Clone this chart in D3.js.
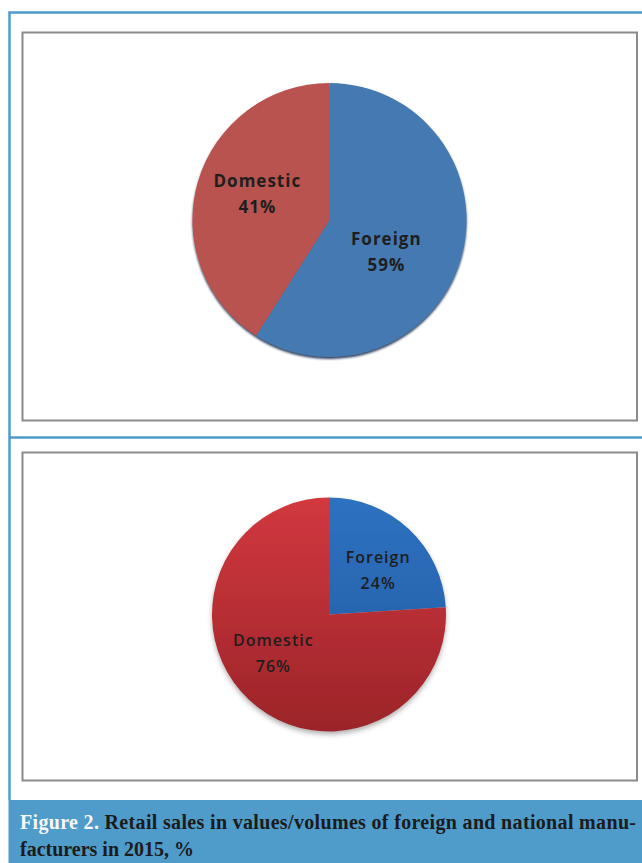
<!DOCTYPE html>
<html>
<head>
<meta charset="utf-8">
<script src="https://cdn.jsdelivr.net/npm/d3@7"></script>
<style>
  html, body { margin: 0; padding: 0; background: #fff; }
  svg { display: block; }
</style>
</head>
<body>
<script>
// Chart data
const categories = ["Foreign", "Domestic"];
const valuesTop = [59, 41];      // retail sales in values
const valuesBottom = [24, 76];   // retail sales in volumes
const captionLead = "Figure 2.";
const captionLine1 = " Retail sales in values/volumes of foreign and national manu-";
const captionLine2 = "facturers in 2015, %";

// Create SVG
const width = 642, height = 863;
const svg = d3.select("body")
    .append("svg")
    .attr("width", width)
    .attr("height", height);

const defs = svg.append("defs");

// Dark rim under the top pie
const rim = defs.append("filter").attr("id", "rim")
    .attr("x", "-10%").attr("y", "-10%").attr("width", "120%").attr("height", "125%");
rim.append("feDropShadow")
    .attr("dx", 0).attr("dy", 2).attr("stdDeviation", 1)
    .attr("flood-color", "#1b3350").attr("flood-opacity", 0.9);

// Soft shadow under the bottom pie
const soft = defs.append("filter").attr("id", "soft")
    .attr("x", "-10%").attr("y", "-10%").attr("width", "120%").attr("height", "125%");
soft.append("feDropShadow")
    .attr("dx", 0).attr("dy", 3).attr("stdDeviation", 2.5)
    .attr("flood-color", "#555").attr("flood-opacity", 0.45);

// Frame: outer blue border, separator, caption bar
const blue = "#4e9bcb";
svg.append("path")
    .attr("d", `M${width + 5},12.5 H9.5 V800`)
    .attr("fill", "none").attr("stroke", blue).attr("stroke-width", 2.5);
svg.append("line")
    .attr("x1", 9).attr("x2", width).attr("y1", 437.5).attr("y2", 437.5)
    .attr("stroke", blue).attr("stroke-width", 2.5);
svg.append("rect")
    .attr("x", 8.5).attr("y", 800).attr("width", width).attr("height", height - 800)
    .attr("fill", "#4f9bca");

// Gray chart boxes
[[32, 420], [452, 780]].forEach(([y0, y1]) => {
    svg.append("rect")
        .attr("x", 22.5).attr("y", y0 + 0.5)
        .attr("width", 637 - 22.5).attr("height", y1 - y0)
        .attr("fill", "#fff")
        .attr("stroke", "#8a8a8a").attr("stroke-width", 2);
});

// Gradients for the bottom pie
function vGrad(id, y0, y1, c0, c1) {
    const g = defs.append("linearGradient").attr("id", id)
        .attr("gradientUnits", "userSpaceOnUse")
        .attr("x1", 0).attr("x2", 0).attr("y1", y0).attr("y2", y1);
    g.append("stop").attr("offset", "0%").attr("stop-color", c0);
    g.append("stop").attr("offset", "100%").attr("stop-color", c1);
}
vGrad("gForeign", -117, 117, "#2d72c0", "#2259a0");
vGrad("gDomestic", -117, 117, "#d2383f", "#9b2429");

const pie = d3.pie().sort(null).value(d => d.value);

function drawPie(opts) {
    const data = categories.map((c, i) => ({ name: c, value: opts.values[i] }));
    const g = svg.append("g").attr("transform", `translate(${opts.cx},${opts.cy})`);
    const arc = d3.arc().innerRadius(0).outerRadius(opts.r);

    g.append("g").attr("filter", opts.filter)
        .selectAll("path")
        .data(pie(data))
        .join("path")
        .attr("d", arc)
        .attr("fill", (d, i) => opts.colors[i]);

    const lbl = g.append("g")
        .attr("font-family", "'Open Sans', sans-serif")
        .attr("font-weight", opts.weight)
        .attr("font-size", opts.fontSize)
        .attr("letter-spacing", 1)
        .attr("fill", "#1e1e1e")
        .attr("text-anchor", "middle");

    pie(data).forEach((d, i) => {
        const k = opts.labelK[i] * opts.r;
        const [x, y] = d3.arc().innerRadius(k).outerRadius(k).centroid(d);
        const px = x + opts.nudge[i][0], py = y + opts.nudge[i][1];
        const t = lbl.append("text").attr("dominant-baseline", "central");
        t.append("tspan").attr("x", px).attr("y", py - 13).text(d.data.name);
        t.append("tspan").attr("x", px).attr("y", py + 13).text(d3.format(".0f")(d.data.value) + "%");
    });
}

drawPie({
    values: valuesTop, cx: 329.5, cy: 220, r: 137,
    colors: ["#4579b2", "#b9524f"], filter: "url(#rim)",
    labelK: [0.47, 0.56], nudge: [[-5, 13], [1.5, -5.5]],
    fontSize: 17, weight: 700
});

drawPie({
    values: valuesBottom, cx: 329, cy: 614.5, r: 117,
    colors: ["url(#gForeign)", "url(#gDomestic)"], filter: "url(#soft)",
    labelK: [0.57, 0.57], nudge: [[3.5, 4], [-10, -10]],
    fontSize: 16, weight: 600
});

// Caption
const cap = svg.append("g")
    .attr("font-family", "'Liberation Serif', serif")
    .attr("font-weight", 700)
    .attr("font-size", 20);
const l1 = cap.append("text").attr("x", 20).attr("y", 829)
    .attr("textLength", 616).attr("lengthAdjust", "spacing");
l1.append("tspan").attr("fill", "#f7f7f7").text(captionLead);
l1.append("tspan").attr("fill", "#1b1b1b").text(captionLine1);
cap.append("text").attr("x", 20).attr("y", 856)
    .attr("fill", "#1b1b1b").text(captionLine2);
</script>
</body>
</html>
